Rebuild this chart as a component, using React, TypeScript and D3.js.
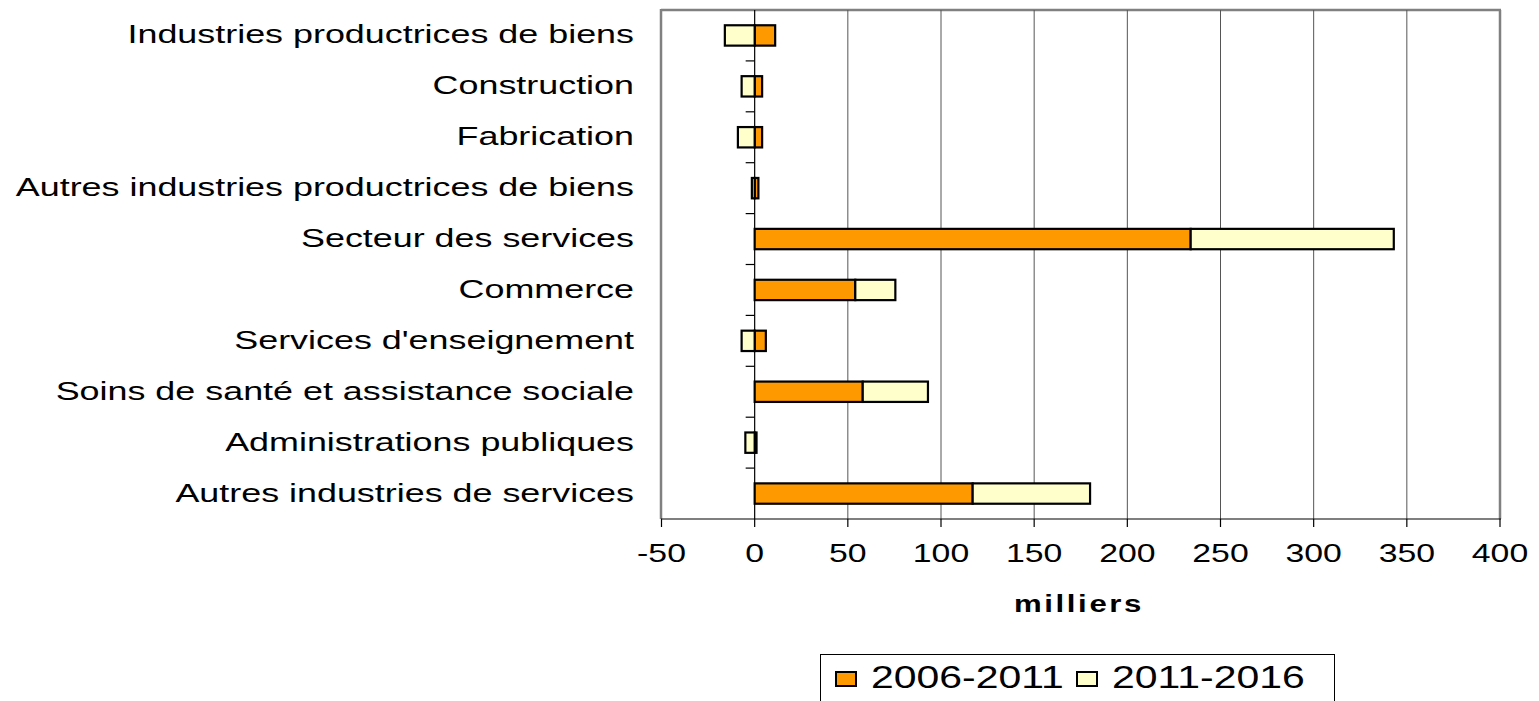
import React from "react";
import * as d3 from "d3";

const categories = [
  "Industries productrices de biens",
  "Construction",
  "Fabrication",
  "Autres industries productrices de biens",
  "Secteur des services",
  "Commerce",
  "Services d'enseignement",
  "Soins de santé et assistance sociale",
  "Administrations publiques",
  "Autres industries de services",
];
const series2006_2011 = [11, 4, 4, 2, 234, 54, 6, 58, 1, 117];
const series2011_2016 = [-16, -7, -9, -1.5, 109, 21.5, -7, 35, -5, 63];
const seriesNames = ["2006-2011", "2011-2016"];
const seriesColors = ["#FF9900", "#FFFFCC"];
const xTicks = [-50, 0, 50, 100, 150, 200, 250, 300, 350, 400];
const axisTitle = "milliers";

const W = 1539;
const H = 701;
const FONT = "'Liberation Sans', Arial, sans-serif";

export default function App() {
  const x = d3.scaleLinear().domain([-50, 400]).range([661.5, 1500]);
  const y = d3.scaleBand<string>().domain(categories).range([10, 519]);
  const bw = y.bandwidth();
  const barH = bw * 0.4;
  const x0 = x(0);

  const bars: { key: string; x1: number; x2: number; y: number; fill: string }[] = [];
  categories.forEach((c, i) => {
    let pos = 0;
    let neg = 0;
    [series2006_2011, series2011_2016].forEach((s, k) => {
      const v = s[i];
      let a: number, b: number;
      if (v >= 0) {
        a = pos;
        b = pos + v;
        pos = b;
      } else {
        a = neg + v;
        b = neg;
        neg = a;
      }
      bars.push({
        key: c + k,
        x1: x(a),
        x2: x(b),
        y: (y(c) as number) + (bw - barH) / 2,
        fill: seriesColors[k],
      });
    });
  });

  const sxLabel = 1.38;
  const sxTick = 1.3;

  return (
    <svg
      width={W}
      height={H}
      style={{ position: "absolute", left: 0, top: 0, background: "#fff" }}
    >
      <line x1={661} x2={1501} y1={10} y2={10} stroke="#808080" strokeWidth={2.5} />
      <line x1={661} x2={661} y1={9} y2={519} stroke="#808080" strokeWidth={2.5} />
      {xTicks.filter((t) => t > 0).map((t) => (
        <line
          key={"g" + t}
          x1={x(t)}
          x2={x(t)}
          y1={10}
          y2={519}
          stroke={t === 400 ? "#808080" : "#555"}
          strokeWidth={t === 400 ? 2.5 : 1}
        />
      ))}
      <line x1={x0} x2={x0} y1={10} y2={519} stroke="#000" strokeWidth={1.2} />
      {categories.slice(1).map((c) => (
        <line
          key={"yt" + c}
          x1={x0 - 9}
          x2={x0}
          y1={y(c) as number}
          y2={y(c) as number}
          stroke="#000"
          strokeWidth={1.2}
        />
      ))}
      {bars.map((b) => (
        <rect
          key={b.key}
          x={b.x1}
          y={b.y}
          width={Math.max(0, b.x2 - b.x1)}
          height={barH}
          fill={b.fill}
          stroke="#000"
          strokeWidth={2.2}
        />
      ))}
      <line x1={661} x2={1501} y1={519} y2={519} stroke="#000" strokeWidth={1.2} />
      {xTicks.map((t) => (
        <g key={"xt" + t}>
          <line x1={x(t)} x2={x(t)} y1={519} y2={527} stroke="#000" strokeWidth={1.2} />
          <text
            transform={`translate(${x(t)},562) scale(${sxTick},1)`}
            textAnchor="middle"
            fontFamily={FONT}
            fontSize={26}
            fill="#000"
          >
            {t}
          </text>
        </g>
      ))}
      {categories.map((c) => (
        <text
          key={"cl" + c}
          transform={`translate(634,${(y(c) as number) + bw / 2 + 8}) scale(${sxLabel},1)`}
          textAnchor="end"
          fontFamily={FONT}
          fontSize={26}
          fill="#000"
        >
          {c}
        </text>
      ))}
      <text
        transform={`translate(1079,612) scale(1.3,1)`}
        textAnchor="middle"
        fontFamily={FONT}
        fontSize={24}
        fontWeight="bold"
        letterSpacing={2}
        fill="#000"
      >
        {axisTitle}
      </text>
      <rect x={820.5} y={654.5} width={514} height={60} fill="#fff" stroke="#000" strokeWidth={1} />
      {seriesNames.map((n, k) => {
        const lx = k === 0 ? 836 : 1077;
        return (
          <g key={"lg" + n}>
            <rect x={lx} y={672} width={20} height={14} fill={seriesColors[k]} stroke="#000" strokeWidth={2} />
            <text
              transform={`translate(${lx + 35},688) scale(1.28,1)`}
              fontFamily={FONT}
              fontSize={32}
              fill="#000"
            >
              {n}
            </text>
          </g>
        );
      })}
    </svg>
  );
}
